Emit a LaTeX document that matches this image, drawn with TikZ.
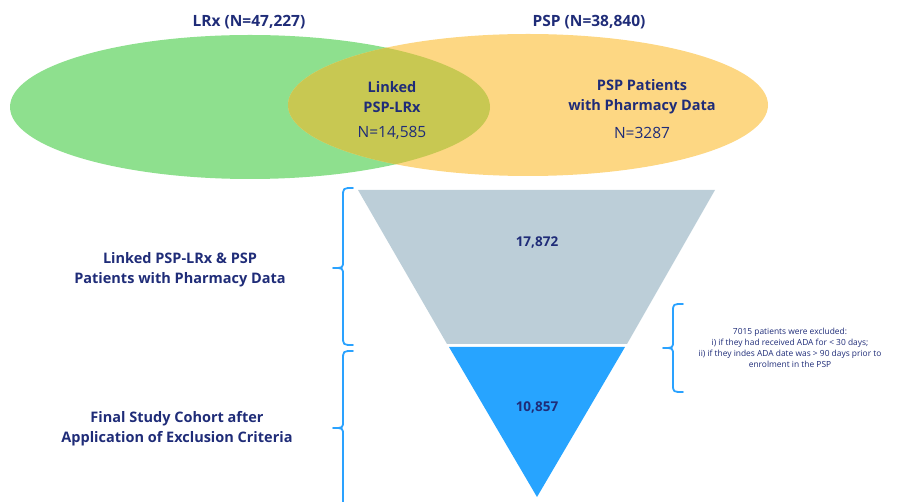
\documentclass[tikz,border=0pt]{standalone}
\usepackage{fontspec}
\setmainfont{Open Sans}
\begin{document}
\definecolor{navy}{HTML}{1F2C78}
\definecolor{lrxgreen}{HTML}{8EE08E}
\definecolor{psporange}{HTML}{FDD783}
\definecolor{overlap}{HTML}{C8C852}
\definecolor{funnelgray}{HTML}{BCCED8}
\definecolor{funnelblue}{HTML}{27A4FF}
\definecolor{bracecol}{HTML}{2AA2FF}
\begin{tikzpicture}[x=1pt,y=-1pt,
  title/.style={font=\bfseries\fontsize{15.5}{18}\selectfont, text=navy, inner sep=0pt},
  figure/.style={font=\bfseries\fontsize{13.5}{17}\selectfont, text=navy, inner sep=0pt},
  label/.style={font=\bfseries\fontsize{14.5}{20}\selectfont, text=navy, align=center, inner sep=0pt},
  count/.style={font=\fontsize{15.5}{18}\selectfont, text=navy, inner sep=0pt},
  note/.style={font=\fontsize{8.4}{11}\selectfont, text=navy, align=center, inner sep=0pt},
  bracepath/.style={draw=bracecol, line width=1.8pt, line cap=round, line join=round}]
\useasboundingbox (0,0) rectangle (908,502);

% Venn diagram of the two data sources
\fill[lrxgreen] (250,107) ellipse [x radius=240pt, y radius=72pt];
\fill[psporange] (528,105) ellipse [x radius=240pt, y radius=71pt];
\begin{scope}
  \clip (250,107) ellipse [x radius=240pt, y radius=72pt];
  \fill[overlap] (528,105) ellipse [x radius=240pt, y radius=71pt];
\end{scope}

\node[title] (lrx) at (249,22) {LRx (N=47,227)};
\node[title] (psp) at (589,22) {PSP (N=38,840)};
\node[label] (linked) at (392,97) {Linked\\PSP-LRx};
\node[count] (linkedN) at (392,133) {N=14,585};
\node[label] (pharm) at (642,97) {PSP Patients\\with Pharmacy Data};
\node[count] (pharmN) at (642,133) {N=3287};

% Funnel
\fill[funnelgray] (358,190) -- (715,190) -- (627,344) -- (447,344) -- cycle;
\fill[funnelblue] (449,347) -- (625,347) -- (537,497) -- cycle;
\node[figure] (n1) at (537,242) {17,872};
\node[figure] (n2) at (537,407) {10,857};

% Braces
\draw[bracepath] (353,188) .. controls (343,188) .. (343,197) -- (343,261)
  .. controls (343,268) .. (333,268) .. controls (343,268) .. (343,275)
  -- (343,336) .. controls (343,345) .. (353,345);
\draw[bracepath] (353,351) .. controls (343,351) .. (343,360) -- (343,421)
  .. controls (343,428) .. (333,428) .. controls (343,428) .. (343,435)
  -- (343,510);
\draw[bracepath] (683,304) .. controls (673,304) .. (673,312) -- (673,341)
  .. controls (673,348) .. (663,348) .. controls (673,348) .. (673,355)
  -- (673,384) .. controls (673,392) .. (683,392);

% Side labels
\node[label] (stage1) at (180,270) {Linked PSP-LRx \& PSP\\Patients with Pharmacy Data};
\node[label] (stage2) at (177,429) {Final Study Cohort after\\Application of Exclusion Criteria};
\node[note] (excl) at (790,348) {7015 patients were excluded:\\i) if they had received ADA for < 30 days;\\ii) if they indes ADA date was > 90 days prior to\\enrolment in the PSP};
\end{tikzpicture}
\end{document}
